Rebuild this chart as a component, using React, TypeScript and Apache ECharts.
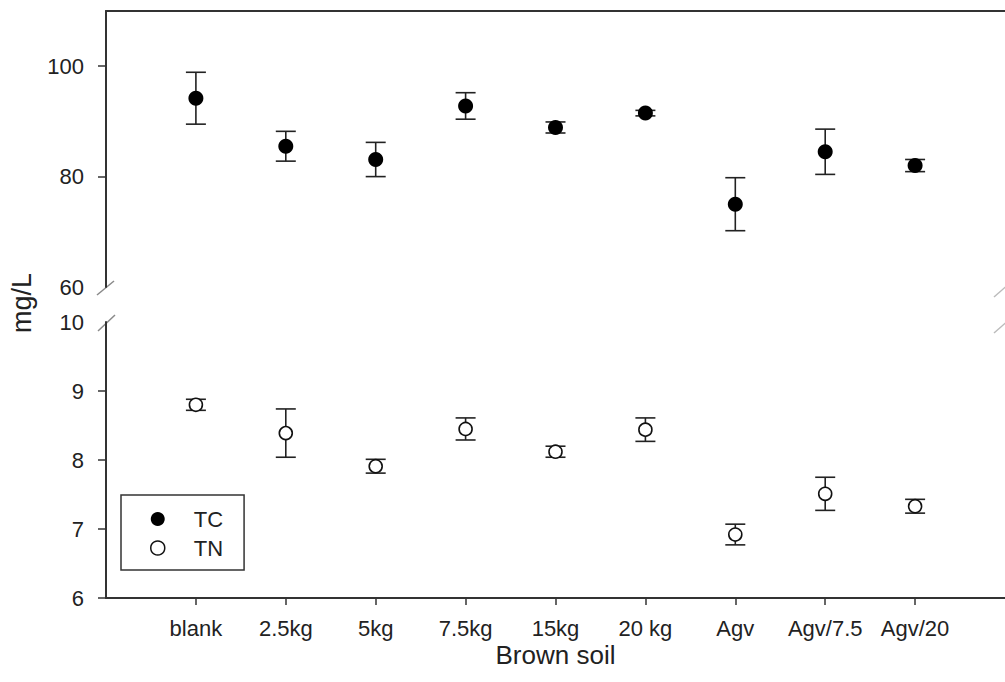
import React, { useEffect, useRef } from "react";
import * as echarts from "echarts";

const categories = ["blank", "2.5kg", "5kg", "7.5kg", "15kg", "20 kg", "Agv", "Agv/7.5", "Agv/20"];
const tcMean = [94.2, 85.5, 83.1, 92.8, 88.9, 91.5, 75.0, 84.5, 82.0];
const tcErr = [4.7, 2.7, 3.1, 2.4, 1.0, 0.5, 4.8, 4.1, 1.1];
const tnMean = [8.8, 8.39, 7.91, 8.45, 8.12, 8.44, 6.92, 7.51, 7.33];
const tnErr = [0.08, 0.35, 0.1, 0.16, 0.08, 0.17, 0.15, 0.24, 0.1];
const topTickLabels = [60, 80, 100];
const topTicks = [80, 100];
const bottomTickLabels = [6, 7, 8, 9, 10];
const bottomTicks = [6, 7, 8, 9];

const FONT = "'Liberation Sans', Arial, sans-serif";
const AXIS_COLOR = "#333";
const TEXT_COLOR = "#222";

const axisCats = ["", ...categories, " "];
const isCat = (i: number) => i >= 1 && i <= categories.length;

function errBarRender(params: any, api: any) {
  const x = api.value(0);
  const lo = api.coord([x, api.value(1)]);
  const hi = api.coord([x, api.value(2)]);
  const w = 10;
  const style = { stroke: "#222", lineWidth: 1.6 };
  return {
    type: "group",
    children: [
      { type: "line", shape: { x1: lo[0], y1: lo[1], x2: hi[0], y2: hi[1] }, style },
      { type: "line", shape: { x1: lo[0] - w, y1: lo[1], x2: lo[0] + w, y2: lo[1] }, style },
      { type: "line", shape: { x1: hi[0] - w, y1: hi[1], x2: hi[0] + w, y2: hi[1] }, style },
    ],
  };
}

export default function App() {
  const ref = useRef<HTMLDivElement>(null);
  useEffect(() => {
    if (!ref.current) return;
    const chart = echarts.init(ref.current, undefined, { renderer: "svg" });
    const tcPts = tcMean.map((v, i) => [i + 1, v]);
    const tnPts = tnMean.map((v, i) => [i + 1, v]);
    const tcBars = tcMean.map((v, i) => [i + 1, v - tcErr[i], v + tcErr[i]]);
    const tnBars = tnMean.map((v, i) => [i + 1, v - tnErr[i], v + tnErr[i]]);
    const slash = { stroke: "#8a8a8a", lineWidth: 1.5 };
    chart.setOption({
      animation: false,
      backgroundColor: "#fff",
      textStyle: { fontFamily: FONT },
      grid: [
        { left: 106, right: -6, top: 11, height: 276 },
        { left: 106, right: -6, top: 322, height: 276 },
      ],
      xAxis: [
        {
          type: "category",
          gridIndex: 0,
          position: "top",
          data: axisCats,
          boundaryGap: false,
          axisLine: { show: true, lineStyle: { color: AXIS_COLOR, width: 2 } },
          axisTick: { show: false },
          axisLabel: { show: false },
          splitLine: { show: false },
        },
        {
          type: "category",
          gridIndex: 1,
          position: "bottom",
          data: axisCats,
          boundaryGap: false,
          axisLine: { show: true, lineStyle: { color: AXIS_COLOR, width: 2 } },
          axisTick: {
            show: true,
            inside: false,
            length: 7,
            interval: (i: number) => isCat(i),
            lineStyle: { color: AXIS_COLOR, width: 1.5 },
          },
          axisLabel: {
            interval: (i: number) => isCat(i),
            margin: 19,
            fontSize: 22,
            color: TEXT_COLOR,
            fontFamily: FONT,
          },
          splitLine: { show: false },
          name: "Brown soil",
          nameLocation: "middle",
          nameGap: 44,
          nameTextStyle: { fontSize: 26, color: TEXT_COLOR, fontFamily: FONT },
        },
      ],
      yAxis: [
        {
          type: "value",
          gridIndex: 0,
          min: 60,
          max: 110,
          interval: 20,
          axisLine: { show: true, lineStyle: { color: AXIS_COLOR, width: 2 } },
          axisTick: {
            show: true,
            length: 8,
            customValues: topTicks,
            lineStyle: { color: AXIS_COLOR, width: 1.5 },
          },
          axisLabel: {
            customValues: topTickLabels,
            margin: 22,
            fontSize: 22,
            color: TEXT_COLOR,
            fontFamily: FONT,
          },
          splitLine: { show: false },
        },
        {
          type: "value",
          gridIndex: 1,
          min: 6,
          max: 10,
          interval: 1,
          axisLine: { show: true, lineStyle: { color: AXIS_COLOR, width: 2 } },
          axisTick: {
            show: true,
            length: 8,
            customValues: bottomTicks,
            lineStyle: { color: AXIS_COLOR, width: 1.5 },
          },
          axisLabel: {
            customValues: bottomTickLabels,
            margin: 22,
            fontSize: 22,
            color: TEXT_COLOR,
            fontFamily: FONT,
          },
          splitLine: { show: false },
        },
      ],
      legend: {
        left: 121,
        top: 495,
        orient: "vertical",
        padding: [13, 21, 11, 29],
        itemWidth: 14,
        itemHeight: 14,
        itemGap: 7,
        borderColor: "#333",
        borderWidth: 1.5,
        backgroundColor: "#fff",
        textStyle: { fontSize: 22, color: TEXT_COLOR, fontFamily: FONT, padding: [0, 0, 0, 24] },
        data: [
          { name: "TC", icon: "circle", itemStyle: { color: "#000", borderWidth: 0 } },
          { name: "TN", icon: "circle", itemStyle: { color: "#fff", borderColor: "#111", borderWidth: 1.5 } },
        ],
      },
      series: [
        {
          name: "TC err",
          type: "custom",
          xAxisIndex: 0,
          yAxisIndex: 0,
          renderItem: errBarRender,
          encode: { x: 0, y: [1, 2] },
          data: tcBars,
          z: 2,
        },
        {
          name: "TN err",
          type: "custom",
          xAxisIndex: 1,
          yAxisIndex: 1,
          renderItem: errBarRender,
          encode: { x: 0, y: [1, 2] },
          data: tnBars,
          z: 2,
        },
        {
          name: "TC",
          type: "scatter",
          xAxisIndex: 0,
          yAxisIndex: 0,
          symbol: "circle",
          symbolSize: 15,
          itemStyle: { color: "#000", opacity: 1 },
          data: tcPts,
          z: 3,
        },
        {
          name: "TN",
          type: "scatter",
          xAxisIndex: 1,
          yAxisIndex: 1,
          symbol: "circle",
          symbolSize: 13,
          itemStyle: { color: "#fff", borderColor: "#111", borderWidth: 1.6, opacity: 1 },
          data: tnPts,
          z: 3,
        },
      ],
      graphic: [
        {
          type: "text",
          x: 22,
          y: 303,
          rotation: Math.PI / 2,
          style: {
            text: "mg/L",
            fontSize: 27,
            fontFamily: FONT,
            fill: TEXT_COLOR,
            align: "center",
            verticalAlign: "middle",
          },
        },
        { type: "line", shape: { x1: 97, y1: 295, x2: 114, y2: 281 }, style: slash },
        { type: "line", shape: { x1: 98, y1: 331, x2: 115, y2: 315 }, style: slash },
        { type: "line", shape: { x1: 994, y1: 297, x2: 1010, y2: 283 }, style: { stroke: "#bbb", lineWidth: 1.5 } },
        { type: "line", shape: { x1: 994, y1: 333, x2: 1010, y2: 319 }, style: { stroke: "#bbb", lineWidth: 1.5 } },
      ],
    });
    return () => chart.dispose();
  }, []);
  return (
    <div
      ref={ref}
      style={{ position: "fixed", left: 0, top: 0, width: 1005, height: 682, background: "#fff" }}
    />
  );
}
